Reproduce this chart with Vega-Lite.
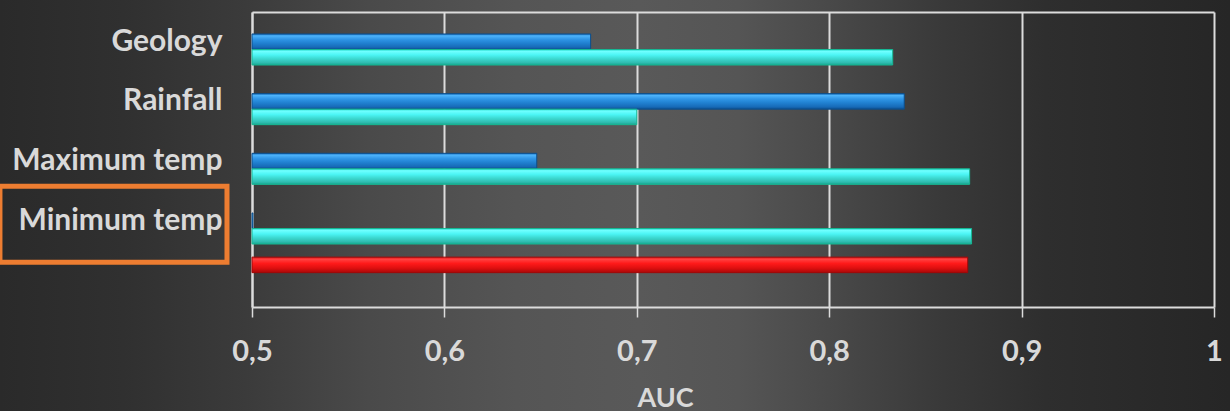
{
  "$schema": "https://vega.github.io/schema/vega-lite/v6.json",
  "description": "Jackknife of variable importance: AUC without each variable, with only that variable, and with all variables.",
  "width": 1230,
  "height": 411,
  "autosize": {"type": "none"},
  "padding": 0,
  "background": "#3a3a3a",
  "config": {
    "font": "Lato",
    "view": {
      "stroke": null,
      "fill": {
        "gradient": "linear", "x1": 0, "y1": 0, "x2": 1, "y2": 0,
        "stops": [
          {"offset": 0.0, "color": "#2a2a2a"},
          {"offset": 0.1, "color": "#303030"},
          {"offset": 0.2, "color": "#3b3b3b"},
          {"offset": 0.3, "color": "#4a4a4a"},
          {"offset": 0.42, "color": "#555555"},
          {"offset": 0.52, "color": "#595959"},
          {"offset": 0.6, "color": "#555555"},
          {"offset": 0.68, "color": "#484848"},
          {"offset": 0.76, "color": "#3a3a3a"},
          {"offset": 0.85, "color": "#2e2e2e"},
          {"offset": 1.0, "color": "#262626"}
        ]
      }
    }
  },
  "data": {
    "values": [
      {"variable": "Geology", "series": "Without variable", "auc": 0.676},
      {"variable": "Geology", "series": "With only variable", "auc": 0.833},
      {"variable": "Rainfall", "series": "Without variable", "auc": 0.839},
      {"variable": "Rainfall", "series": "With only variable", "auc": 0.7},
      {"variable": "Maximum temp", "series": "Without variable", "auc": 0.648},
      {"variable": "Maximum temp", "series": "With only variable", "auc": 0.873},
      {"variable": "Minimum temp", "series": "Without variable", "auc": 0.5005},
      {"variable": "Minimum temp", "series": "With only variable", "auc": 0.874},
      {"variable": "All variables", "series": "With all variables", "auc": 0.872}
    ]
  },
  "resolve": {"axis": {"x": "independent"}},
  "layer": [
    {
      "transform": [{"filter": "datum.series === 'Without variable'"}],
      "mark": {
        "type": "bar",
        "stroke": "#0c4f8c",
        "strokeWidth": 1,
        "fill": {
          "gradient": "linear", "x1": 0, "y1": 0, "x2": 0, "y2": 1,
          "stops": [
            {"offset": 0.0, "color": "#1a6fc0"},
            {"offset": 0.12, "color": "#4db3fa"},
            {"offset": 0.35, "color": "#2f95e6"},
            {"offset": 0.6, "color": "#2080d0"},
            {"offset": 0.85, "color": "#176bb8"},
            {"offset": 1.0, "color": "#0e4f90"}
          ]
        }
      },
      "encoding": {
        "y": {
          "field": "variable", "type": "nominal",
          "scale": {"type": "band", "domain": ["Geology", "Rainfall", "Maximum temp", "Minimum temp", "All variables"], "range": [12, 307], "paddingInner": 0.22, "paddingOuter": 0.082, "align": 0.66},
          "axis": {
            "orient": "left", "offset": -252, "title": null,
            "domain": true, "domainColor": "#dcdcdc", "domainWidth": 2,
            "ticks": false, "tickSize": 0, "grid": false,
            "labelFont": "Lato", "labelFontWeight": "bold", "labelFontSize": 30, "labelColor": "#d9d9d9",
            "labelPadding": 30, "labelLimit": 400,
            "labelExpr": "datum.value === 'All variables' ? '' : datum.value"
          }
        },
        "yOffset": {
          "field": "series", "type": "nominal",
          "scale": {"domain": ["With all variables", "Without variable", "With only variable"], "paddingInner": 0, "paddingOuter": 0}
        },
        "x": {
          "field": "auc", "type": "quantitative",
          "scale": {"domain": [0.5, 1], "range": [252, 1214], "zero": false, "nice": false},
          "axis": {
            "orient": "top", "offset": 0,
            "values": [0.5, 0.6, 0.7, 0.8, 0.9, 1],
            "grid": true, "gridColor": "#dcdcdc", "gridWidth": 2,
            "domain": false, "ticks": false, "labels": false, "title": null
          }
        },
        "x2": {"datum": 0.5}
      }
    },
    {
      "transform": [{"filter": "datum.series === 'With only variable'"}],
      "mark": {
        "type": "bar",
        "stroke": "#17b894",
        "strokeWidth": 1,
        "fill": {
          "gradient": "linear", "x1": 0, "y1": 0, "x2": 0, "y2": 1,
          "stops": [
            {"offset": 0.0, "color": "#1fd8c8"},
            {"offset": 0.12, "color": "#70ffff"},
            {"offset": 0.35, "color": "#4cf5f5"},
            {"offset": 0.6, "color": "#3cd8d0"},
            {"offset": 0.85, "color": "#30bcb0"},
            {"offset": 1.0, "color": "#14a890"}
          ]
        }
      },
      "encoding": {
        "y": {
          "field": "variable", "type": "nominal",
          "scale": {"type": "band", "domain": ["Geology", "Rainfall", "Maximum temp", "Minimum temp", "All variables"], "range": [12, 307], "paddingInner": 0.22, "paddingOuter": 0.082, "align": 0.66}
        },
        "yOffset": {
          "field": "series", "type": "nominal",
          "scale": {"domain": ["With all variables", "Without variable", "With only variable"], "paddingInner": 0, "paddingOuter": 0}
        },
        "x": {
          "field": "auc", "type": "quantitative",
          "scale": {"domain": [0.5, 1], "range": [252, 1214], "zero": false, "nice": false},
          "axis": {
            "orient": "bottom", "offset": -104,
            "values": [0.5, 0.6, 0.7, 0.8, 0.9, 1],
            "labelExpr": "replace(format(datum.value, '~g'), '.', ',')",
            "grid": false,
            "domain": true, "domainColor": "#dcdcdc", "domainWidth": 2,
            "ticks": true, "tickColor": "#dcdcdc", "tickWidth": 1.5, "tickSize": 10,
            "labelFont": "Lato", "labelFontWeight": "bold", "labelFontSize": 29, "labelColor": "#d9d9d9",
            "labelPadding": 20, "labelFlush": false, "labelOverlap": false,
            "title": "AUC", "titleFont": "Lato", "titleFontWeight": "bold", "titleFontSize": 27, "titleColor": "#d9d9d9",
            "titleX": 665, "titleY": 99, "titleBaseline": "alphabetic", "titleAlign": "center"
          }
        },
        "x2": {"datum": 0.5}
      }
    },
    {
      "transform": [{"filter": "datum.series === 'With all variables'"}],
      "mark": {
        "type": "bar",
        "stroke": "#a00808",
        "strokeWidth": 1,
        "fill": {
          "gradient": "linear", "x1": 0, "y1": 0, "x2": 0, "y2": 1,
          "stops": [
            {"offset": 0.0, "color": "#e81818"},
            {"offset": 0.15, "color": "#ff4040"},
            {"offset": 0.4, "color": "#ff1a1a"},
            {"offset": 0.7, "color": "#e01010"},
            {"offset": 1.0, "color": "#a80808"}
          ]
        }
      },
      "encoding": {
        "y": {
          "field": "variable", "type": "nominal",
          "scale": {"type": "band", "domain": ["Geology", "Rainfall", "Maximum temp", "Minimum temp", "All variables"], "range": [12, 307], "paddingInner": 0.22, "paddingOuter": 0.082, "align": 0.66}
        },
        "yOffset": {
          "field": "series", "type": "nominal",
          "scale": {"domain": ["With all variables", "Without variable", "With only variable"], "paddingInner": 0, "paddingOuter": 0}
        },
        "x": {
          "field": "auc", "type": "quantitative",
          "scale": {"domain": [0.5, 1], "range": [252, 1214], "zero": false, "nice": false},
          "axis": null
        },
        "x2": {"datum": 0.5}
      }
    },
    {
      "data": {"values": [{"highlight": "Minimum temp"}]},
      "mark": {"type": "rect", "filled": false, "stroke": "#ed7d31", "strokeWidth": 5},
      "encoding": {
        "x": {
          "datum": 0.369, "type": "quantitative",
          "scale": {"domain": [0.5, 1], "range": [252, 1214], "zero": false, "nice": false},
          "axis": {
            "orient": "top", "offset": -12,
            "domain": true, "domainColor": "#dcdcdc", "domainWidth": 2,
            "ticks": false, "labels": false, "grid": false, "title": null
          }
        },
        "x2": {"datum": 0.487},
        "y": {
          "field": "highlight", "type": "nominal", "bandPosition": -0.24,
          "scale": {"type": "band", "domain": ["Geology", "Rainfall", "Maximum temp", "Minimum temp", "All variables"], "range": [12, 307], "paddingInner": 0.22, "paddingOuter": 0.082, "align": 0.66}
        },
        "y2": {"datum": "All variables", "bandPosition": 0.11}
      }
    }
  ]
}
